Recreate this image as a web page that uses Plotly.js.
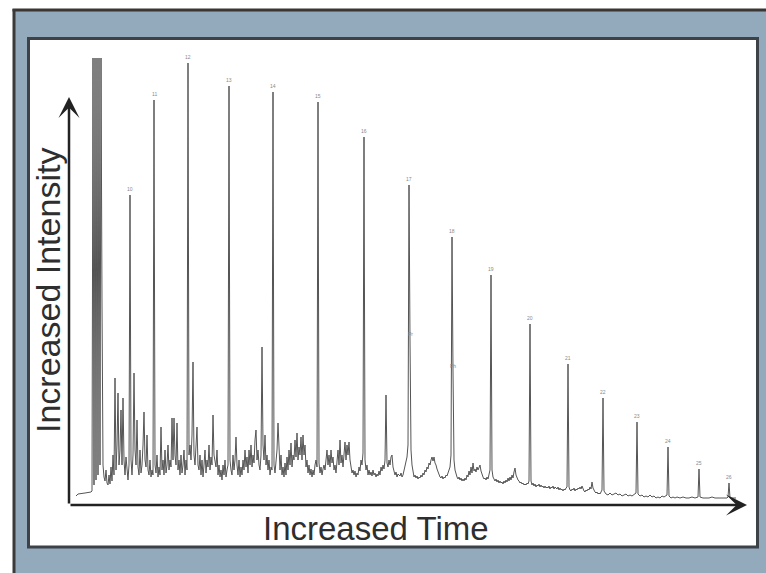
<!DOCTYPE html>
<html>
<head>
<meta charset="utf-8">
<script src="https://cdn.plot.ly/plotly-3.0.1.min.js"></script>
<style>html,body{margin:0;padding:0;background:#fff;}#chart{width:766px;height:573px;}</style>
</head>
<body>
<div id="chart"></div>
<script>
// Chromatogram: scan number vs detector intensity (arbitrary units)
const scan = [
76,78,85,91,92,93,94,95,96,97,98,99,100,101,102,
103,104,105,106,107,108,109,110,111,112,
113,114,115,116,117,118,119,120,121,122,
123,124,125,126,127,128,129,130,131,132,
133,134,135,136,137,138,139,140,141,142,
143,144,145,146,147,148,149,150,151,152,
153,154,155,156,157,158,159,160,161,162,
163,164,165,166,167,168,169,170,171,172,
173,174,175,176,177,178,179,180,181,182,
183,184,185,186,187,188,189,190,191,192,
193,194,195,196,197,198,199,200,201,202,
203,204,205,206,207,208,209,210,211,212,
213,214,215,216,217,218,219,220,221,222,
223,224,225,226,227,228,229,230,231,232,
233,234,235,236,237,238,239,240,241,242,
243,244,245,246,247,248,249,250,251,252,
253,254,255,256,257,258,259,260,261,262,
263,264,265,266,267,268,269,270,271,272,
273,274,275,276,277,278,279,280,281,282,
283,284,285,286,287,288,289,290,291,292,
293,294,295,296,297,298,299,300,301,302,
303,304,305,306,307,308,309,310,311,312,
313,314,315,316,317,318,319,320,321,322,
323,324,325,326,327,328,329,330,331,332,
333,334,335,336,337,338,339,340,341,342,
343,344,345,346,347,348,349,350,351,352,
353,354,355,356,357,358,359,360,361,362,
363,364,365,366,367,368,369,370,371,372,
373,374,375,376,377,378,379,380,381,382,
383,384,385,386,387,388,389,390,391,392,
393,394,395,396,397,398,399,400,401,402,
403,404,405,406,407,408,409,410,411,412,
413,414,415,416,417,418,419,420,421,422,
423,424,425,426,427,428,429,430,431,432,
433,434,435,436,437,438,439,440,441,442,
443,444,445,446,447,448,449,450,451,452,
453,454,455,456,457,458,459,460,461,462,
463,464,465,466,467,468,469,470,471,472,
473,474,475,476,477,478,479,480,481,482,
483,484,485,486,487,488,489,490,491,492,
493,494,495,496,497,498,499,500,501,502,
503,504,505,506,507,508,509,510,511,512,
513,514,515,516,517,518,519,520,521,522,
523,524,525,526,527,528,529,530,531,532,
533,534,535,536,537,538,539,540,541,542,
543,544,545,546,547,548,549,550,551,552,
553,554,555,556,557,558,559,560,561,562,
563,564,565,566,567,568,569,570,571,572,
573,574,575,576,577,578,579,580,581,582,
583,584,585,586,587,588,589,590,591,592,
593,594,595,596,597,598,599,600,601,602,
603,
604,606,608,610,612,614,616,618,620,622,
624,626,628,630,632,634,636,637,638,640,
642,644,646,648,650,652,654,656,658,660,
662,664,666,667,668,669,671,673,675,677,
680,683,686,689,692,695,698,699,700,703,
706,709,712,715,718,721,724,727,728,729,
730,733,736
];
const intensity = [
9,11,12,13,14,447,20,447,25,447,30,447,40,447,200,
40,28,24,35,22,20,30,21,38,24,
50,30,127,35,60,112,40,55,95,40,
107,45,30,48,35,25,40,310,45,30,
50,132,55,40,85,38,30,55,32,40,
60,93,45,38,70,35,30,45,28,35,
30,405,40,32,50,28,38,30,78,35,
45,30,55,32,40,60,35,45,38,87,
45,87,50,40,82,35,45,30,50,32,
40,55,30,45,35,442,50,60,45,70,
143,50,40,55,78,40,35,50,30,45,
28,40,55,32,45,38,60,35,48,40,
90,50,45,38,55,30,40,28,35,25,
40,30,45,28,35,40,419,45,35,30,
50,35,45,68,40,30,45,28,38,30,
45,35,55,38,48,32,55,40,60,38,
50,42,65,75,45,55,40,35,50,158,
60,45,70,40,50,35,45,30,38,35,
413,40,32,45,55,82,45,35,50,30,
38,28,42,30,48,35,55,40,62,38,
50,45,65,48,72,45,58,50,68,45,
70,50,60,38,45,32,40,30,36,28,
35,30,40,45,38,403,42,32,38,30,
36,40,35,45,55,40,50,38,55,42,
48,35,40,32,45,55,40,65,42,50,
38,55,63,45,60,50,63,45,40,32,
35,30,34,28,32,30,38,34,45,40,
52,368,45,35,40,30,35,30,33,29,
35,30,32,28,31,29,34,30,38,34,
40,36,45,110,42,38,45,40,48,50,
38,34,30,33,28,31,30,29,32,28,
30,35,38,42,48,60,320,165,55,40,
32,28,30,27,29,26,28,27,30,28,
32,30,35,33,38,36,42,40,45,48,
44,48,42,40,36,33,30,28,27,29,
26,28,27,30,29,32,35,38,50,268,
133,45,35,30,28,26,28,25,27,24,
26,24,27,25,30,28,34,30,38,32,
42,34,36,33,38,35,37,40,34,30,
28,26,27,25,28,26,30,35,230,35,
28,25,24,26,23,25,22,24,22,23,
21,24,22,25,23,27,24,28,25,30,
27,33,37,30,27,25,24,22,23,21,
22,20,21,20,22,21,24,181,24,20,
22,19,21,18,20,19,21,18,20,18,
19,17,19,17,18,17,19,16,18,17,
19,16,18,17,16,18,15,17,15,16,
14,16,15,17,18,141,18,15,14,16,
15,17,14,16,15,17,16,18,16,19,
15,14,13,15,14,16,15,18,16,23,
17,14,13,12,13,11,12,11,13,15,
107,
14,11,10,12,10,11,12,10,11,9,
10,11,9,10,9,11,12,83,11,9,
10,8,9,8,10,8,9,7,8,7,
9,8,9,10,58,9,7,8,7,8,
7,8,7,7,8,7,8,36,8,7,
7,7,8,7,7,7,7,7,8,22,
7,7,7
];
// labelled peaks (n-alkanes and isoprenoids)
const peakScan  = [130,154,188,229,273,318,364,409,410,452,453,491,530,568,603,637,668,699,729];
const peakLabel = ['10','11','12','13','14','15','16','17','Pr','18','Ph','19','20','21','22','23','24','25','26'];
const xTitle = 'Increased Time';
const yTitle = 'Increased Intensity';

const W = 766, H = 573, L = 69, R = 19, T = 40, B = 68;
const pw = W - L - R, ph = H - T - B;
const px = v => (v - L) / pw;
const py = v => (H - B - v) / ph;

const annotations = [];
peakScan.forEach((s, i) => {
  const idx = scan.indexOf(s);
  annotations.push({
    x: s, y: intensity[idx], xref: 'x', yref: 'y', text: peakLabel[i],
    showarrow: false, yanchor: 'bottom', xanchor: 'center', yshift: 1,
    font: {family: 'Liberation Sans, Arial, sans-serif', size: 5, color: '#8a8a8a'}
  });
});
// axis arrows
annotations.push({x: 69, y: 408, ax: 69, ay: 0, xref: 'x', yref: 'y', axref: 'x', ayref: 'y',
  text: '', showarrow: true, arrowhead: 3, arrowsize: 1.4, arrowwidth: 2.5, arrowcolor: '#222', standoff: 0});
annotations.push({x: 747, y: 0, ax: 69, ay: 0, xref: 'x', yref: 'y', axref: 'x', ayref: 'y',
  text: '', showarrow: true, arrowhead: 3, arrowsize: 1.4, arrowwidth: 2.5, arrowcolor: '#222', standoff: 0});
// titles
annotations.push({x: px(376), y: py(528), xref: 'paper', yref: 'paper', text: xTitle, showarrow: false,
  xanchor: 'center', yanchor: 'middle', font: {family: 'Liberation Sans, Arial, sans-serif', size: 33, color: '#2e2e2e'}});
annotations.push({x: px(48), y: py(291), xref: 'paper', yref: 'paper', text: yTitle, showarrow: false, textangle: -90,
  xanchor: 'center', yanchor: 'middle', font: {family: 'Liberation Sans, Arial, sans-serif', size: 34, color: '#2e2e2e'}});

const shapes = [
  {type: 'rect', xref: 'paper', yref: 'paper', x0: px(14), x1: px(780), y0: py(590), y1: py(10),
   fillcolor: '#93A9BC', line: {width: 0}, layer: 'below'},
  {type: 'line', xref: 'paper', yref: 'paper', x0: px(12.5), x1: px(780), y0: py(10), y1: py(10),
   line: {color: '#3a3633', width: 3}, layer: 'below'},
  {type: 'line', xref: 'paper', yref: 'paper', x0: px(14), x1: px(14), y0: py(590), y1: py(9),
   line: {color: '#3a3a3a', width: 3}, layer: 'below'},
  {type: 'rect', xref: 'paper', yref: 'paper', x0: px(28.5), x1: px(757.5), y0: py(547), y1: py(38.5),
   fillcolor: '#ffffff', line: {color: '#3c4248', width: 3}, layer: 'below'}
];

const trace = {
  x: scan, y: intensity, type: 'scatter', mode: 'lines',
  line: {color: '#555555', width: 1}, hoverinfo: 'skip', showlegend: false
};

const layout = {
  width: W, height: H,
  margin: {l: L, r: R, t: T, b: B, pad: 0},
  paper_bgcolor: '#ffffff', plot_bgcolor: 'rgba(0,0,0,0)',
  xaxis: {range: [69, 747], visible: false, fixedrange: true},
  yaxis: {range: [0, 465], visible: false, fixedrange: true},
  shapes: shapes, annotations: annotations, showlegend: false
};

Plotly.newPlot('chart', [trace], layout, {displayModeBar: false, staticPlot: true});
</script>
</body>
</html>
